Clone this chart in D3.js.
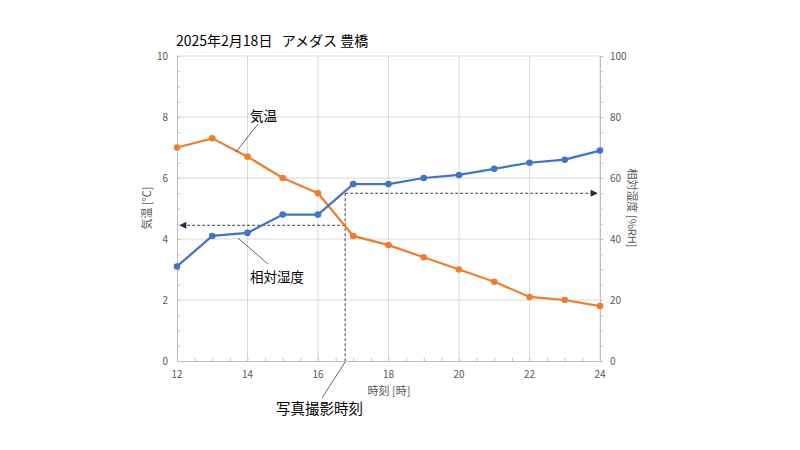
<!DOCTYPE html>
<html><head><meta charset="utf-8">
<script src="https://cdn.jsdelivr.net/npm/d3@7"></script>
<style>body{margin:0;background:#fff}svg{display:block}text{font-family:"Noto Sans CJK JP","Noto Sans",sans-serif}</style>
</head><body><svg id="c" width="800" height="450"></svg>
<script>
const hours = [12,13,14,15,16,17,18,19,20,21,22,23,24];
const temperature = [7.0,7.3,6.7,6.0,5.5,4.1,3.8,3.4,3.0,2.6,2.1,2.0,1.8];
const humidity = [31,41,42,48,48,58,58,60,61,63,65,66,69];
const xTicks = [12,14,16,18,20,22,24];
const yLeftTicks = [0,2,4,6,8,10];
const yRightTicks = [0,20,40,60,80,100];
const photoTime = [16.77];
const photoTemp = [4.45];
const photoHum = [55];

const svg = d3.select("#c");
const L=177,R=600,T=56,B=361;
const x = d3.scaleLinear().domain([12,24]).range([L,R]);
const yL = d3.scaleLinear().domain([0,10]).range([B,T]);
const yR = d3.scaleLinear().domain([0,100]).range([B,T]);
const grid="#d9d9d9", axisC="#bfbfbf", txt="#595959";

// grid
svg.append("g").selectAll("line").data(xTicks.slice(1)).join("line")
  .attr("x1",d=>x(d)).attr("x2",d=>x(d)).attr("y1",T).attr("y2",B).attr("stroke",grid);
svg.append("g").selectAll("line").data(yLeftTicks.slice(1)).join("line")
  .attr("x1",L).attr("x2",R).attr("y1",d=>yL(d)).attr("y2",d=>yL(d)).attr("stroke",grid);

// axes
const ax = d3.axisBottom(x).tickValues(d3.range(12,24.01,0.5)).tickSize(-3).tickFormat("");
const gx = svg.append("g").attr("transform",`translate(0,${B})`).call(ax);
gx.selectAll("line,path").attr("stroke",axisC);
const ayl = d3.axisLeft(yL).tickValues(d3.range(0,10.01,0.5)).tickSize(-3).tickFormat("");
const gyl = svg.append("g").attr("transform",`translate(${L},0)`).call(ayl);
gyl.selectAll("line,path").attr("stroke",axisC);
const ayr = d3.axisRight(yR).tickValues(d3.range(0,100.1,5)).tickSize(3).tickFormat("");
const gyr = svg.append("g").attr("transform",`translate(${R},0)`).call(ayr);
gyr.selectAll("line,path").attr("stroke",axisC);
svg.selectAll(".domain").attr("stroke",axisC);

// tick labels
svg.append("g").selectAll("text").data(xTicks).join("text")
  .attr("x",d=>x(d)).attr("y",B+17).attr("text-anchor","middle").attr("font-size",10).attr("fill",txt).text(d=>d);
svg.append("g").selectAll("text").data(yLeftTicks).join("text")
  .attr("x",L-9).attr("y",d=>yL(d)+4).attr("text-anchor","end").attr("font-size",10).attr("fill",txt).text(d=>d);
svg.append("g").selectAll("text").data(yRightTicks).join("text")
  .attr("x",R+10).attr("y",d=>yR(d)+4).attr("text-anchor","start").attr("font-size",10).attr("fill",txt).text(d=>d);

// axis titles
svg.append("text").attr("x",389).attr("y",395).attr("text-anchor","middle").attr("font-size",11).attr("fill",txt).text("時刻 [時]");
svg.append("text").attr("transform","translate(151,208) rotate(-90)").attr("text-anchor","middle").attr("font-size",11).attr("fill",txt).text("気温 [℃]");
svg.append("text").attr("transform","translate(628,208) rotate(90)").attr("text-anchor","middle").attr("font-size",11).attr("fill",txt).text("相対湿度 [%RH]");

// title
svg.append("text").attr("x",176).attr("y",46).attr("font-size",14).attr("fill","#000").attr("xml:space","preserve").text("2025年2月18日   アメダス 豊橋");

// arrow markers
const defs = svg.append("defs");
defs.append("marker").attr("id","arr").attr("viewBox","0 0 10 10").attr("refX",9).attr("refY",5)
  .attr("markerWidth",10).attr("markerHeight",7).attr("markerUnits","userSpaceOnUse").attr("orient","auto")
  .append("path").attr("d","M0,0L10,5L0,10Z").attr("fill","#1f2a44");

// dashed guide lines
const dash = "3,2", dc="#404040";
svg.append("line").attr("x1",x(photoTime[0])).attr("x2",x(photoTime[0])).attr("y1",yR(photoHum[0])).attr("y2",B)
  .attr("stroke",dc).attr("stroke-dasharray",dash);
svg.append("line").attr("x1",x(photoTime[0])).attr("x2",L+3).attr("y1",yL(photoTemp[0])).attr("y2",yL(photoTemp[0]))
  .attr("stroke",dc).attr("stroke-dasharray",dash).attr("marker-end","url(#arr)");
svg.append("line").attr("x1",x(photoTime[0])).attr("x2",R-3).attr("y1",yR(photoHum[0])).attr("y2",yR(photoHum[0]))
  .attr("stroke",dc).attr("stroke-dasharray",dash).attr("marker-end","url(#arr)");

// series
const orange="#ED7D31", blue="#4472C4";
const lineT = d3.line().x((d,i)=>x(hours[i])).y(d=>yL(d));
const lineH = d3.line().x((d,i)=>x(hours[i])).y(d=>yR(d));
svg.append("path").attr("d",lineT(temperature)).attr("fill","none").attr("stroke",orange).attr("stroke-width",2.25);
svg.append("g").selectAll("circle").data(temperature).join("circle")
  .attr("cx",(d,i)=>x(hours[i])).attr("cy",d=>yL(d)).attr("r",3.3).attr("fill",orange);
svg.append("path").attr("d",lineH(humidity)).attr("fill","none").attr("stroke",blue).attr("stroke-width",2.25);
svg.append("g").selectAll("circle").data(humidity).join("circle")
  .attr("cx",(d,i)=>x(hours[i])).attr("cy",d=>yR(d)).attr("r",3.3).attr("fill",blue);

// callouts
const lc="#404040";
svg.append("line").attr("x1",258).attr("y1",124).attr("x2",236).attr("y2",152).attr("stroke",lc).attr("stroke-width",0.8);
svg.append("text").attr("x",250).attr("y",121).attr("font-size",13.5).attr("fill","#000").text("気温");
svg.append("line").attr("x1",238).attr("y1",238).attr("x2",268).attr("y2",264).attr("stroke",lc).attr("stroke-width",0.8);
svg.append("text").attr("x",250).attr("y",282).attr("font-size",13.5).attr("fill","#000").text("相対湿度");
svg.append("line").attr("x1",x(photoTime[0])).attr("y1",B+1).attr("x2",322).attr("y2",398).attr("stroke",lc).attr("stroke-width",0.8);
svg.append("text").attr("x",276).attr("y",414).attr("font-size",14.5).attr("fill","#000").text("写真撮影時刻");
</script></body></html>
